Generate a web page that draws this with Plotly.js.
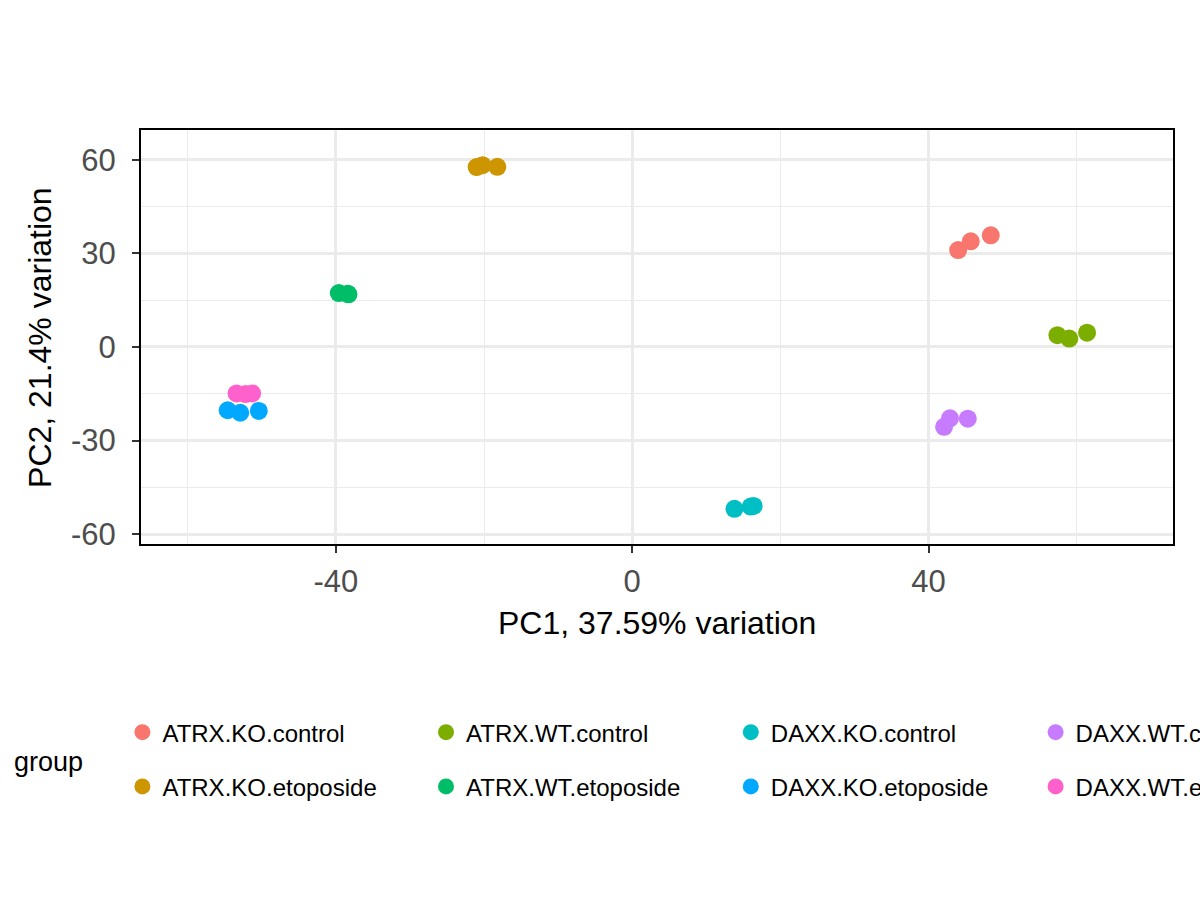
<!DOCTYPE html>
<html>
<head>
<meta charset="utf-8">
<script src="https://cdn.plot.ly/plotly-3.0.1.min.js"></script>
<style>body{margin:0;background:#fff}</style>
</head>
<body>
<div id="chart" style="width:1200px;height:900px"></div>
<script>
let groups = ["ATRX.KO.control","ATRX.KO.etoposide","ATRX.WT.control","ATRX.WT.etoposide",
"DAXX.KO.control","DAXX.KO.etoposide","DAXX.WT.control","DAXX.WT.etoposide"]

let colors = ["#F8766D","#CD9600","#7CAE00","#00BE67","#00BFC4","#00A9FF","#C77CFF","#FF61CC"]

// PC1 / PC2 per group, three replicates each
let pc1 = [
[44.0,45.7,48.4],
[-21.0,-20.2,-18.2],
[57.4,59.0,61.4],
[-39.6,-38.4,-38.3],
[13.8,16.0,16.4],
[-54.6,-52.9,-50.4],
[42.1,42.9,45.3],
[-53.4,-52.2,-51.3]
]

let pc2 = [
[31.1,33.9,35.8],
[57.7,58.3,57.8],
[3.8,2.7,4.6],
[17.3,17.1,16.9],
[-51.9,-51.2,-51.0],
[-20.3,-21.1,-20.5],
[-25.6,-22.9,-23.0],
[-14.9,-15.1,-14.9]
]

let xTicks = [-40,0,40]
let xTickText = ["-40","0","40"]
let yTicks = [-60,-30,0,30,60]
let yTickText = ["-60","-30","0","30","60"]

let xTitle = "PC1, 37.59% variation"
let yTitle = "PC2, 21.4% variation"
let legendTitle = "group"

// legend columns: two groups per column
let legendNames = ["legend","legend","legend2","legend2","legend3","legend3","legend4","legend4"]

let traces = groups.map((g,i)=>({
x:pc1[i],
y:pc2[i],
name:g,
type:"scatter",
mode:"markers",
legend:legendNames[i],
legendgroup:g,
marker:{color:colors[i],size:18}
}))

let legendBase = {
orientation:"v",
xref:"container",
yref:"container",
y:0.211,
yanchor:"top",
xanchor:"left",
font:{size:24,color:"#000"},
tracegroupgap:20,
bgcolor:"rgba(0,0,0,0)"
}

let axisCommon = {
showline:true,
mirror:true,
linecolor:"#000",
linewidth:2,
ticks:"outside",
ticklen:7,
tickwidth:2.2,
tickcolor:"#333",
gridcolor:"#EBEBEB",
gridwidth:2.5,
zeroline:false,
tickfont:{size:31,color:"#4D4D4D"}
}

let layout = {
width:1200,
height:900,
paper_bgcolor:"#fff",
plot_bgcolor:"#fff",
font:{family:"Liberation Sans, Arial, sans-serif"},
margin:{l:141,r:27,t:130,b:356,autoexpand:false},
showlegend:true,
xaxis:Object.assign({},axisCommon,{
range:[-66.3,73.0],
tickvals:xTicks,
ticktext:xTickText,
ticklabelstandoff:2,
minor:{dtick:20,tick0:0,showgrid:true,gridcolor:"#EBEBEB",gridwidth:1.2,ticks:""}
}),
yaxis:Object.assign({},axisCommon,{
range:[-63.2,69.6],
tickvals:yTicks,
ticktext:yTickText,
ticklabelstandoff:10,
minor:{dtick:15,tick0:0,showgrid:true,gridcolor:"#EBEBEB",gridwidth:1.2,ticks:""}
}),
legend:Object.assign({},legendBase,{x:0.102}),
legend2:Object.assign({},legendBase,{x:0.355}),
legend3:Object.assign({},legendBase,{x:0.609}),
legend4:Object.assign({},legendBase,{x:0.863}),
annotations:[
{text:xTitle,xref:"paper",yref:"paper",x:0.5,y:-0.1908,xanchor:"center",yanchor:"middle",
showarrow:false,font:{size:32,color:"#000"}},
{text:yTitle,xref:"paper",yref:"paper",x:-0.0979,y:0.5,xanchor:"center",yanchor:"middle",
textangle:-90,showarrow:false,font:{size:32,color:"#000"}},
{text:legendTitle,xref:"paper",yref:"paper",x:-0.125,y:-0.5266,xanchor:"left",yanchor:"middle",
showarrow:false,font:{size:27,color:"#000"}}
]
}

Plotly.newPlot("chart",traces,layout,{displayModeBar:false})
</script>
</body>
</html>
